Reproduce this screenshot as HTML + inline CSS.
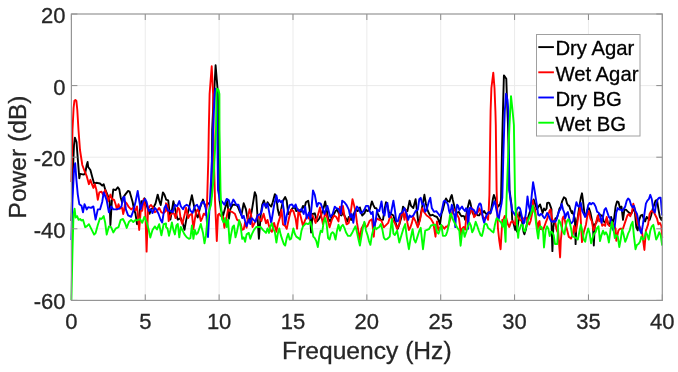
<!DOCTYPE html><html><head><meta charset="utf-8"><style>html,body{margin:0;padding:0;background:#fff;width:678px;height:372px;overflow:hidden}svg{display:block;will-change:transform}text{font-family:"Liberation Sans",sans-serif;fill:#262626;stroke:#262626;stroke-width:0.3}</style></head><body>
<svg width="678" height="372" viewBox="0 0 678 372">
<rect width="678" height="372" fill="#fff"/>
<path d="M145.26 14.0V300.4M219.12 14.0V300.4M292.99 14.0V300.4M366.85 14.0V300.4M440.71 14.0V300.4M514.58 14.0V300.4M588.44 14.0V300.4M71.4 85.60H662.3M71.4 157.20H662.3M71.4 228.80H662.3" stroke="#ebebeb" stroke-width="1" fill="none"/>
<g fill="none" stroke-width="1.9" stroke-linejoin="round" stroke-linecap="butt">
<path d="M71.4 221.0 L72.5 180.0 L74.0 145.0 L74.9 137.6 L76.5 142.0 L77.5 155.0 L79.3 178.3 L80.1 173.9 L83.8 174.6 L85.2 173.1 L86.7 165.0 L87.6 162.0 L88.2 167.0 L90.4 170.0 L92.6 178.3 L94.1 183.5 L97.1 182.8 L100.0 183.5 L102.2 185.7 L103.7 184.2 L105.2 189.4 L107.4 194.6 L109.6 200.5 L110.4 225.0 L111.9 200.5 L113.3 189.4 L115.6 190.1 L117.8 187.2 L119.3 189.4 L120.7 197.5 L122.2 202.7 L123.7 196.8 L125.2 194.6 L128.1 190.9 L129.6 191.6 L131.1 196.8 L132.6 202.0 L134.0 209.4 L135.5 213.8 L137.0 224.2 L138.5 219.7 L140.0 209.4 L141.4 201.2 L142.9 202.0 L144.4 198.3 L145.9 203.5 L148.1 209.4 L149.6 213.8 L151.0 209.4 L153.3 207.9 L155.5 203.5 L157.7 194.6 L159.2 200.5 L160.7 205.0 L162.9 192.4 L164.4 194.6 L166.0 199.0 L166.0 199.6 L168.2 200.4 L170.4 219.6 L173.4 201.1 L176.4 215.1 L177.8 219.6 L180.8 218.1 L183.0 224.0 L184.5 229.9 L186.0 221.1 L191.9 195.2 L194.1 206.3 L196.3 215.1 L197.8 217.4 L200.0 207.8 L203.0 199.6 L205.2 206.3 L206.7 204.8 L208.9 203.3 L210.4 201.8 L211.5 195.0 L212.2 130.0 L213.5 100.0 L214.4 88.0 L215.6 65.3 L217.5 88.0 L218.0 100.0 L218.5 130.0 L219.5 200.0 L221.0 210.0 L223.0 215.9 L225.2 207.8 L227.4 201.1 L228.9 218.8 L230.3 209.2 L232.6 204.8 L235.5 204.8 L237.7 206.3 L240.0 212.2 L241.4 215.1 L243.7 203.3 L245.9 209.2 L247.4 218.1 L249.6 221.1 L251.8 210.7 L254.8 192.2 L256.2 195.9 L257.7 219.6 L258.9 238.8 L260.7 215.1 L262.2 204.8 L263.9 200.4 L266.0 207.8 L267.5 202.2 L269.0 204.4 L271.2 206.6 L272.7 202.2 L274.9 194.1 L276.4 197.8 L277.8 209.6 L279.3 215.5 L280.8 211.1 L283.0 200.7 L285.2 197.0 L286.7 200.7 L288.2 214.0 L290.4 211.8 L292.6 208.1 L294.8 207.4 L296.3 211.1 L298.5 209.6 L300.8 211.8 L303.0 205.9 L304.5 208.1 L305.9 202.2 L308.2 200.7 L309.6 208.8 L311.1 232.5 L312.6 214.0 L314.8 213.3 L317.0 221.4 L319.3 218.5 L321.5 214.0 L323.7 207.4 L325.2 201.4 L326.7 209.6 L328.1 218.5 L330.3 221.4 L332.6 215.5 L334.0 214.0 L335.5 211.1 L337.0 209.6 L339.2 214.0 L341.4 215.5 L342.9 212.5 L345.1 217.0 L347.4 221.4 L348.8 217.0 L351.1 219.9 L353.3 215.5 L355.5 209.6 L357.7 211.1 L359.9 207.4 L362.2 215.5 L364.4 213.3 L366.0 209.6 L367.5 211.1 L369.7 209.6 L371.9 201.4 L373.4 205.1 L374.9 208.1 L376.4 208.1 L377.8 214.0 L379.3 217.0 L380.8 219.9 L383.0 219.9 L384.5 209.6 L386.0 202.2 L387.4 205.1 L388.9 212.5 L391.1 214.0 L393.4 215.5 L395.6 222.9 L397.8 228.8 L399.3 224.4 L401.5 217.0 L403.0 206.6 L405.2 209.6 L407.4 211.1 L409.6 200.7 L411.1 205.9 L413.3 208.1 L415.6 199.2 L417.0 211.1 L418.5 224.4 L420.0 218.5 L422.2 206.6 L424.4 194.8 L425.9 203.7 L427.4 209.6 L428.9 213.3 L430.3 215.5 L432.6 214.8 L434.8 216.2 L437.0 217.0 L438.5 219.9 L440.0 224.4 L441.4 214.0 L442.9 209.6 L445.1 200.7 L446.0 198.5 L447.8 201.2 L449.5 201.7 L450.9 196.8 L451.8 195.0 L452.7 199.4 L454.0 204.8 L454.9 209.2 L456.2 211.9 L457.5 212.7 L458.9 211.9 L460.2 214.5 L461.5 216.3 L462.9 215.9 L464.2 216.3 L465.1 219.8 L466.0 217.2 L467.3 209.2 L468.6 203.9 L469.5 200.3 L470.4 203.0 L471.3 207.4 L472.6 212.7 L474.0 215.4 L475.3 213.6 L476.6 214.1 L477.9 215.4 L479.3 215.4 L480.6 212.7 L481.9 213.6 L483.3 211.9 L484.2 211.0 L485.0 212.7 L486.4 214.1 L487.7 213.2 L489.0 212.7 L490.4 213.6 L491.7 206.5 L493.0 198.5 L493.9 195.0 L495.5 199.4 L497.0 204.0 L498.4 206.5 L500.1 203.9 L501.0 200.3 L502.0 150.0 L502.6 125.0 L503.9 75.4 L506.3 78.8 L507.0 100.0 L508.0 125.0 L509.5 190.0 L511.5 205.0 L512.2 219.6 L513.7 224.0 L515.2 229.9 L516.0 225.4 L516.9 231.6 L518.2 222.7 L519.5 212.1 L520.9 214.8 L522.2 222.7 L523.5 231.6 L524.4 234.3 L525.8 229.8 L527.1 222.7 L528.4 216.5 L529.8 212.1 L531.1 208.5 L532.4 205.0 L533.7 199.5 L536.9 209.3 L538.6 206.6 L540.0 204.4 L541.3 208.4 L542.6 213.0 L544.0 208.5 L545.3 210.3 L546.6 208.5 L547.1 203.1 L548.4 202.6 L549.3 203.1 L550.6 206.6 L551.5 209.3 L551.5 222.7 L552.4 251.1 L553.3 227.2 L554.2 222.7 L555.5 218.3 L556.8 218.3 L558.1 213.9 L559.5 208.5 L560.8 206.6 L562.1 201.3 L563.9 197.3 L565.7 198.6 L567.0 203.5 L568.4 205.7 L569.2 205.7 L570.6 210.2 L571.9 213.0 L572.3 211.2 L574.9 218.5 L575.6 244.1 L576.4 224.4 L577.8 217.0 L579.3 206.6 L580.8 197.8 L582.0 193.3 L583.0 200.7 L584.5 214.0 L586.0 216.2 L587.4 209.6 L588.9 208.1 L590.4 212.5 L591.9 219.9 L592.9 224.4 L593.8 245.5 L594.8 224.4 L596.3 222.9 L597.8 217.0 L599.3 214.0 L600.8 215.5 L602.2 215.5 L603.7 221.4 L605.2 222.9 L606.7 218.5 L608.2 224.4 L609.6 225.9 L611.1 217.0 L612.6 222.9 L614.1 218.5 L615.6 206.6 L617.0 201.4 L618.5 202.2 L620.0 208.1 L621.5 206.6 L623.0 219.9 L624.4 209.6 L625.9 209.6 L627.4 211.1 L628.9 212.5 L631.1 214.0 L633.3 209.6 L634.8 211.1 L636.3 227.3 L637.7 230.3 L639.2 219.9 L640.7 215.5 L642.2 214.8 L643.7 218.5 L645.1 221.4 L646.6 217.0 L648.1 218.5 L649.6 219.9 L651.1 215.5 L652.5 209.6 L654.0 205.1 L655.5 200.7 L657.0 200.0 L658.5 209.6 L659.9 217.0 L661.4 219.9 L662.2 217.0" stroke="#000000"/>
<path d="M71.4 182.0 L72.5 130.0 L73.6 108.0 L74.4 100.8 L75.4 100.0 L76.4 101.0 L77.3 110.0 L78.5 130.0 L80.0 150.0 L82.3 165.0 L84.5 170.9 L86.7 176.1 L88.9 184.2 L90.4 179.8 L91.9 184.2 L93.4 187.9 L94.8 184.2 L96.3 189.4 L97.8 199.8 L99.3 192.4 L101.5 191.6 L103.0 194.6 L105.2 190.1 L106.7 194.6 L108.2 201.2 L110.4 194.6 L111.9 199.0 L114.1 199.8 L115.6 204.2 L117.0 209.4 L118.5 204.2 L120.0 208.6 L122.2 207.9 L123.2 214.0 L124.2 210.0 L125.2 202.0 L126.7 203.5 L128.9 207.2 L131.1 209.4 L133.3 207.9 L135.5 210.1 L137.0 206.4 L139.2 230.0 L140.7 210.9 L142.2 210.9 L143.7 199.0 L145.2 206.4 L146.6 251.6 L148.0 210.0 L149.5 206.4 L151.0 205.0 L153.3 207.9 L154.8 212.3 L157.0 210.9 L159.2 207.9 L161.4 212.3 L163.6 213.1 L166.0 210.9 L166.0 203.3 L167.5 204.8 L168.7 221.1 L170.4 215.1 L172.7 212.9 L174.1 213.7 L175.6 218.1 L177.8 207.8 L179.3 209.2 L180.8 219.6 L182.3 224.0 L184.5 215.1 L186.0 207.8 L188.2 218.1 L189.7 215.1 L191.9 213.7 L193.4 229.2 L194.8 219.6 L196.3 211.4 L197.8 209.2 L199.3 213.7 L200.8 221.1 L202.2 218.1 L203.7 213.7 L205.4 215.0 L207.0 205.0 L208.3 160.0 L208.8 130.0 L209.6 94.0 L211.7 66.3 L213.1 94.0 L213.5 130.0 L214.0 160.0 L215.0 200.0 L216.8 241.0 L218.0 215.0 L219.3 213.7 L220.7 215.9 L223.0 216.6 L224.4 227.7 L225.9 221.1 L228.1 209.2 L230.3 211.4 L232.6 212.2 L234.8 213.7 L237.0 219.6 L239.2 221.1 L240.7 224.0 L242.2 229.9 L243.7 229.2 L245.1 222.5 L246.6 227.7 L248.1 215.9 L249.6 209.2 L251.1 215.1 L252.5 227.0 L254.8 222.5 L256.2 219.6 L257.7 215.1 L259.9 218.8 L261.4 221.1 L263.6 213.7 L266.0 223.3 L267.5 219.9 L269.0 225.9 L270.4 230.3 L271.9 231.8 L274.1 222.9 L276.4 231.8 L277.8 224.4 L280.1 217.0 L281.5 209.6 L283.0 224.4 L285.2 225.9 L286.7 228.8 L288.9 218.5 L291.1 209.6 L293.4 211.1 L295.6 218.5 L297.1 228.8 L298.5 209.6 L300.8 217.0 L303.0 225.9 L305.2 219.9 L307.4 215.5 L308.9 218.5 L311.1 214.0 L313.3 217.0 L315.6 222.9 L317.8 215.5 L320.0 207.4 L321.5 217.0 L323.0 224.4 L325.2 212.5 L326.7 215.5 L328.1 221.4 L329.6 227.3 L331.8 219.9 L334.0 215.5 L336.3 217.0 L338.5 221.4 L340.0 206.6 L341.4 214.0 L342.9 205.9 L344.4 215.5 L346.6 224.4 L348.8 222.9 L351.1 209.6 L352.5 199.2 L354.0 205.1 L355.5 211.1 L357.0 222.9 L358.5 231.8 L359.5 239.9 L361.4 228.8 L364.4 222.9 L366.0 227.3 L367.5 225.9 L369.7 220.7 L371.9 219.2 L373.8 236.7 L374.9 222.9 L377.1 218.5 L379.3 219.9 L381.5 220.7 L383.8 227.3 L386.0 225.1 L388.2 222.9 L390.4 215.5 L392.6 219.9 L394.8 222.9 L397.1 228.8 L399.3 224.4 L400.8 215.5 L403.0 211.8 L404.5 219.9 L405.9 209.6 L407.4 222.9 L408.9 230.0 L410.4 227.3 L411.9 222.9 L413.3 217.0 L415.6 221.4 L417.8 227.3 L420.0 219.9 L422.2 208.1 L424.4 212.5 L426.7 215.5 L428.9 217.0 L431.1 219.2 L433.3 222.9 L435.5 236.7 L437.0 221.4 L438.5 230.3 L440.0 227.3 L442.2 225.9 L444.4 228.8 L446.0 226.5 L447.8 226.9 L449.5 221.6 L451.3 215.4 L452.7 211.0 L454.0 209.2 L454.9 210.1 L456.2 212.7 L457.5 215.4 L458.9 218.1 L459.8 224.3 L460.6 234.9 L462.0 228.7 L463.7 226.9 L465.1 229.6 L466.4 216.3 L467.7 212.7 L469.1 215.4 L470.4 212.7 L471.3 209.2 L472.2 208.3 L473.1 211.0 L474.0 217.2 L474.8 216.3 L476.2 214.5 L477.5 212.7 L478.4 211.0 L479.3 208.3 L480.2 210.1 L481.0 212.7 L482.4 215.4 L483.3 217.2 L484.2 219.4 L485.0 218.1 L486.4 216.3 L487.3 218.1 L488.1 219.8 L488.6 212.7 L489.0 203.9 L489.4 195.0 L490.3 130.0 L490.6 111.0 L491.4 88.0 L493.3 72.7 L494.5 88.0 L495.4 111.0 L495.8 125.0 L496.6 190.0 L497.9 228.0 L499.2 240.0 L500.6 249.3 L502.3 220.0 L503.4 219.6 L504.8 215.9 L506.3 218.1 L507.8 224.0 L509.3 227.0 L510.8 222.5 L512.2 221.1 L513.7 222.5 L515.2 224.8 L516.0 210.3 L517.3 215.6 L518.7 218.3 L520.0 220.1 L521.3 220.5 L522.7 219.2 L524.0 218.3 L525.3 217.4 L526.6 218.3 L528.0 222.7 L529.3 224.5 L530.6 221.0 L532.0 213.9 L532.7 209.4 L532.9 200.4 L533.7 206.6 L535.1 209.4 L536.0 218.3 L536.9 225.4 L537.7 229.0 L538.6 222.7 L539.5 221.0 L540.4 229.0 L541.7 229.0 L543.1 229.8 L544.4 226.3 L545.7 222.7 L547.1 219.2 L548.4 214.8 L549.7 210.3 L550.6 209.4 L551.5 215.6 L552.4 220.1 L553.7 221.0 L555.0 220.1 L556.4 229.0 L557.3 231.6 L558.1 229.8 L559.5 249.4 L560.1 257.4 L560.8 240.5 L561.7 231.6 L562.6 218.3 L563.5 216.5 L564.8 220.1 L566.1 226.3 L567.5 231.6 L568.8 236.9 L570.1 237.8 L571.0 238.7 L572.8 234.3 L574.1 225.9 L575.6 231.8 L577.1 224.4 L578.6 214.0 L580.1 207.4 L582.0 242.1 L583.8 232.1 L586.0 224.4 L587.4 215.5 L588.9 211.1 L590.4 218.5 L591.9 221.4 L593.4 230.3 L594.8 227.3 L596.3 221.4 L597.8 215.5 L599.3 221.4 L600.8 218.5 L602.2 225.9 L603.7 224.4 L605.2 225.9 L606.7 217.0 L608.2 224.4 L609.6 225.9 L611.1 224.4 L612.6 222.9 L614.1 225.9 L615.6 228.8 L616.3 240.7 L617.8 233.3 L618.5 230.3 L620.0 228.8 L621.5 228.8 L623.0 228.8 L624.4 224.4 L625.9 219.9 L627.4 215.5 L628.9 214.0 L630.3 216.2 L631.8 212.5 L633.3 203.7 L634.8 209.6 L636.3 217.0 L637.7 224.4 L639.2 225.9 L640.7 228.8 L642.2 233.3 L644.4 250.0 L645.9 230.3 L646.6 228.8 L648.1 224.4 L649.6 214.0 L651.1 211.1 L652.5 211.1 L654.0 212.5 L655.5 215.5 L657.0 218.5 L658.5 224.4 L659.9 222.9 L661.4 225.9 L662.2 238.1" stroke="#ff0000"/>
<path d="M71.4 240.0 L72.5 200.0 L74.0 170.0 L75.2 163.2 L76.4 179.8 L77.8 194.6 L79.3 204.2 L81.5 205.7 L83.0 212.3 L84.5 204.2 L86.7 209.4 L88.2 207.2 L91.1 207.9 L93.4 206.4 L95.6 219.5 L97.8 209.4 L100.0 209.4 L102.2 202.0 L103.7 192.4 L105.2 196.1 L106.7 200.5 L108.9 212.3 L111.1 206.4 L113.3 209.4 L116.3 209.4 L119.3 208.6 L121.5 206.4 L123.0 197.5 L124.4 196.8 L125.9 209.4 L128.1 215.3 L131.1 216.8 L133.3 210.9 L135.5 202.0 L137.7 190.9 L139.2 200.5 L140.7 209.4 L142.9 202.0 L145.1 199.0 L146.6 202.0 L148.8 210.9 L151.0 209.4 L152.5 213.1 L154.8 207.9 L156.2 209.4 L158.5 213.8 L160.7 220.0 L162.2 222.5 L163.5 213.8 L164.4 207.9 L166.0 205.0 L166.0 206.3 L168.2 210.7 L170.4 210.7 L172.7 212.2 L174.9 204.8 L177.1 206.3 L179.3 201.1 L180.8 206.3 L183.0 209.2 L184.5 206.3 L186.7 204.8 L188.9 206.3 L190.4 210.7 L192.6 212.9 L194.8 206.3 L197.1 204.8 L199.3 209.2 L201.5 202.6 L203.7 201.8 L205.2 206.3 L206.0 210.0 L208.0 237.0 L210.5 190.0 L212.5 150.0 L213.1 130.0 L214.6 94.0 L215.6 88.6 L216.5 94.0 L217.3 130.0 L218.0 190.0 L220.0 200.0 L222.2 201.8 L224.4 204.8 L226.7 198.9 L228.9 200.4 L230.3 206.3 L231.8 203.3 L233.3 199.6 L234.8 201.8 L236.3 204.8 L238.5 204.8 L240.7 212.2 L242.2 218.1 L243.7 215.9 L245.1 221.1 L246.6 226.2 L248.8 219.6 L250.3 224.0 L251.8 218.1 L253.3 219.6 L255.5 221.8 L257.7 215.1 L259.9 214.4 L261.4 212.2 L262.9 204.8 L264.4 203.3 L266.0 207.0 L267.5 203.7 L269.0 211.1 L271.2 222.9 L272.7 214.0 L274.1 205.1 L276.4 195.5 L277.8 202.2 L279.3 200.0 L280.8 202.2 L282.3 200.7 L283.8 209.6 L285.2 224.4 L286.7 215.5 L288.2 209.6 L289.7 205.1 L291.9 204.4 L294.1 207.4 L295.6 204.4 L297.1 208.8 L299.3 211.1 L301.5 208.8 L303.7 214.0 L305.2 206.6 L306.7 218.5 L308.9 212.5 L310.4 218.5 L311.9 203.7 L313.0 190.4 L314.8 194.8 L317.0 206.6 L318.5 202.9 L320.7 203.7 L323.0 209.6 L324.4 214.0 L325.9 209.6 L327.4 205.9 L328.9 211.8 L330.3 217.0 L332.6 214.0 L334.8 206.6 L336.3 208.1 L338.5 208.8 L340.7 214.0 L342.2 200.7 L344.4 202.2 L346.6 205.1 L348.8 209.6 L350.3 217.0 L351.8 214.0 L353.3 222.9 L354.8 212.5 L357.0 206.6 L358.5 208.1 L360.7 213.3 L362.9 211.8 L364.4 209.6 L366.0 205.9 L368.2 205.9 L369.7 211.1 L371.2 214.0 L372.7 211.8 L374.1 228.8 L375.6 221.4 L377.1 209.6 L379.3 211.1 L381.5 201.4 L383.0 212.5 L384.5 215.5 L386.0 205.9 L387.4 202.9 L388.9 217.0 L391.1 212.5 L393.4 200.7 L394.8 209.6 L396.3 221.4 L397.8 221.4 L400.0 214.0 L402.2 212.5 L404.5 208.1 L406.7 214.0 L408.2 219.9 L409.6 215.5 L411.1 217.0 L413.3 215.5 L415.6 211.1 L417.8 209.6 L419.3 199.2 L420.7 197.8 L422.2 204.4 L423.7 203.7 L425.2 211.8 L426.7 209.6 L428.9 201.4 L430.3 197.8 L431.8 208.1 L434.0 211.8 L436.3 211.1 L438.5 214.0 L440.0 216.2 L441.4 212.5 L443.7 201.4 L445.1 200.7 L446.0 202.1 L447.3 203.0 L448.2 205.6 L449.1 211.0 L450.0 213.6 L450.9 210.1 L451.8 204.8 L452.7 207.4 L453.5 212.7 L454.4 215.4 L455.3 227.1 L456.2 211.0 L457.1 204.8 L458.0 205.6 L459.3 210.1 L460.6 208.3 L462.0 206.5 L463.3 209.2 L464.2 210.1 L465.1 211.0 L466.0 208.3 L467.3 209.2 L468.2 228.7 L469.1 212.7 L469.5 208.3 L470.8 207.4 L471.7 209.2 L472.6 209.2 L474.0 210.1 L475.3 212.7 L476.6 213.6 L477.9 207.4 L479.3 203.9 L480.2 203.4 L481.0 204.8 L481.9 210.1 L482.8 218.1 L484.2 222.8 L485.5 218.1 L486.4 215.4 L487.3 214.5 L488.1 212.7 L489.0 211.9 L490.4 212.7 L491.3 211.0 L492.1 208.3 L493.5 203.9 L494.4 201.2 L495.2 203.0 L496.1 208.3 L497.0 212.7 L497.9 218.1 L498.8 219.0 L499.7 212.7 L500.6 208.3 L501.5 203.9 L502.3 197.7 L503.5 150.0 L504.3 125.0 L504.8 111.0 L506.0 93.8 L507.5 100.0 L508.4 111.0 L508.8 125.0 L509.3 190.0 L510.5 200.0 L512.2 210.7 L515.2 215.1 L516.0 212.1 L517.3 208.5 L518.7 207.2 L520.0 208.5 L520.9 212.1 L522.2 218.3 L523.5 223.6 L524.4 222.7 L525.8 213.9 L527.5 196.4 L528.9 206.6 L530.2 211.1 L531.5 197.7 L533.1 182.2 L534.6 190.6 L536.4 202.2 L537.3 207.7 L538.2 214.8 L539.5 215.6 L540.8 213.9 L542.2 214.8 L543.1 216.5 L544.4 218.3 L545.7 216.5 L547.1 213.0 L548.4 214.8 L549.7 218.3 L551.0 221.0 L552.4 221.9 L553.7 221.0 L555.0 221.9 L556.4 220.1 L557.7 215.6 L559.0 211.2 L560.4 209.4 L561.7 204.0 L563.0 209.3 L564.4 213.0 L565.2 218.3 L566.6 213.9 L567.9 212.1 L569.2 218.3 L570.6 223.6 L571.9 222.7 L573.2 221.0 L574.9 209.6 L576.4 202.2 L577.8 205.9 L579.3 206.6 L580.8 202.9 L582.3 211.1 L583.8 214.0 L585.2 217.0 L586.7 212.5 L588.2 205.1 L589.7 202.9 L591.1 204.4 L592.6 202.9 L594.1 203.7 L595.6 206.6 L597.1 211.8 L598.5 212.5 L600.0 215.5 L601.5 222.9 L603.0 217.0 L604.5 209.6 L605.9 208.1 L607.4 212.5 L608.9 217.0 L610.4 218.5 L611.9 227.3 L613.3 230.3 L614.8 225.9 L616.3 212.5 L617.8 208.1 L619.3 209.6 L620.7 209.6 L622.2 211.1 L623.7 208.8 L625.2 206.6 L626.7 200.7 L628.1 198.5 L629.6 200.0 L631.1 205.1 L632.6 207.4 L634.0 205.9 L635.5 211.1 L637.0 214.0 L638.5 221.4 L640.0 230.3 L641.4 233.3 L642.9 224.4 L644.4 214.0 L645.9 203.7 L647.4 200.7 L648.8 199.2 L650.3 194.8 L651.8 199.2 L653.3 209.6 L654.8 212.5 L656.2 203.7 L657.7 199.2 L659.2 197.8 L660.7 197.8 L662.2 215.5" stroke="#0000ff"/>
<path d="M71.4 300.0 L72.5 250.0 L73.5 215.0 L74.6 208.7 L75.6 217.6 L77.1 216.1 L78.6 219.8 L80.1 219.0 L81.5 220.5 L83.0 219.8 L85.2 227.2 L86.7 226.4 L88.9 224.2 L90.4 227.2 L94.1 234.6 L95.6 233.1 L97.8 225.0 L100.0 218.3 L101.5 219.0 L103.7 216.1 L105.2 222.8 L106.7 234.6 L108.9 226.4 L111.1 227.2 L113.3 232.4 L115.6 228.7 L118.5 227.2 L120.7 219.8 L123.0 219.0 L125.2 223.5 L126.7 227.9 L128.9 222.0 L131.1 219.8 L133.3 222.0 L135.5 219.8 L137.0 220.5 L140.0 219.0 L142.2 222.8 L144.4 216.8 L146.6 222.0 L148.8 230.1 L150.3 237.5 L152.5 230.1 L154.8 226.4 L157.0 229.4 L159.2 224.2 L161.4 235.3 L163.6 224.2 L166.0 223.5 L166.0 227.0 L167.5 228.5 L169.0 235.9 L170.4 229.9 L171.9 222.5 L173.4 229.9 L174.9 234.4 L176.4 225.5 L177.8 224.0 L179.3 237.3 L180.8 227.0 L182.3 229.9 L184.5 234.4 L186.7 237.3 L188.9 238.8 L190.4 238.1 L191.9 225.5 L193.4 238.8 L194.8 229.9 L196.3 234.4 L197.8 232.9 L199.3 228.5 L200.8 224.0 L203.0 232.9 L204.5 243.3 L205.9 235.9 L207.4 219.6 L208.9 211.4 L211.0 205.0 L213.5 180.0 L215.0 150.0 L216.0 130.0 L216.5 94.0 L217.0 88.6 L218.5 90.0 L219.4 94.0 L219.5 130.0 L220.5 190.0 L221.5 215.0 L222.2 219.6 L223.7 222.5 L225.2 218.1 L226.7 227.0 L228.1 219.6 L229.6 243.3 L231.1 234.4 L232.6 227.0 L234.0 225.5 L235.5 237.3 L237.0 231.4 L238.5 224.0 L239.2 220.3 L240.7 227.0 L242.2 238.8 L243.7 237.3 L245.1 241.8 L246.6 234.4 L248.8 232.9 L250.3 238.8 L251.8 234.4 L254.0 229.9 L256.2 227.0 L258.5 227.0 L260.7 227.0 L262.9 229.9 L266.0 232.9 L267.5 228.5 L269.0 232.9 L270.4 226.3 L271.9 223.3 L273.4 229.2 L274.9 232.2 L276.4 242.5 L277.8 233.7 L279.3 228.5 L280.8 235.1 L282.3 239.6 L283.8 244.0 L285.2 245.5 L286.7 238.1 L288.2 233.7 L289.7 239.6 L291.1 238.8 L293.4 228.5 L294.8 233.7 L296.3 236.6 L298.5 238.1 L300.0 239.6 L301.5 230.7 L303.0 226.3 L304.5 224.8 L305.9 223.3 L308.2 224.1 L310.4 221.8 L311.9 227.8 L313.3 236.6 L314.8 238.1 L316.3 241.1 L317.8 247.0 L319.3 236.6 L320.7 230.7 L322.2 232.2 L323.7 221.8 L325.2 218.1 L326.7 224.8 L328.1 238.1 L329.6 239.6 L331.1 233.7 L332.6 232.2 L334.0 233.7 L335.5 239.6 L337.0 230.7 L338.5 224.8 L340.0 230.7 L341.4 226.3 L342.9 224.8 L344.4 227.8 L345.9 232.2 L348.1 235.9 L350.3 235.9 L352.5 232.2 L354.0 229.2 L355.5 226.3 L357.0 232.2 L358.5 239.6 L359.9 245.5 L361.4 236.6 L362.9 227.8 L364.4 221.8 L366.0 230.7 L367.5 235.1 L369.0 241.1 L370.4 244.8 L371.9 235.1 L373.4 229.2 L374.9 227.0 L376.4 229.2 L377.8 227.8 L379.3 227.0 L380.8 224.1 L382.3 229.2 L383.8 237.4 L385.2 239.6 L387.4 238.8 L389.7 236.6 L391.9 218.9 L393.4 233.7 L394.8 235.1 L397.1 230.7 L399.3 242.5 L401.5 235.1 L403.7 227.8 L405.2 224.1 L406.7 236.6 L408.9 249.2 L410.4 239.6 L412.6 229.2 L414.1 239.6 L415.6 242.5 L417.0 238.1 L419.3 230.7 L420.7 227.8 L423.0 249.2 L425.2 230.7 L426.7 230.0 L428.9 229.2 L431.1 225.5 L433.3 224.8 L435.5 224.8 L437.0 232.2 L438.5 233.7 L440.0 229.2 L441.4 224.8 L442.9 235.9 L445.1 235.9 L446.0 235.1 L447.3 231.5 L448.7 225.3 L450.0 215.4 L450.9 213.6 L451.8 216.3 L452.7 219.0 L454.9 223.5 L457.5 228.0 L459.3 230.6 L460.6 245.7 L462.0 233.3 L463.3 228.9 L464.6 236.9 L466.4 231.5 L468.2 225.3 L469.5 222.7 L470.8 225.3 L472.2 232.4 L473.5 229.8 L474.8 225.3 L475.7 221.8 L477.0 225.3 L478.8 230.6 L480.6 235.1 L481.9 236.0 L483.3 230.6 L484.2 225.3 L485.5 223.5 L486.8 224.4 L488.1 228.0 L490.4 229.8 L492.1 231.5 L493.5 232.4 L494.8 225.3 L496.1 220.0 L496.7 218.1 L498.2 219.6 L499.7 221.1 L501.1 222.5 L502.6 227.0 L504.1 219.6 L505.6 241.8 L506.5 200.0 L508.0 160.0 L509.5 125.0 L511.0 96.1 L512.5 110.0 L513.9 125.0 L515.0 195.0 L515.6 210.0 L516.0 213.9 L516.9 222.7 L517.8 234.3 L518.2 237.8 L518.7 231.6 L520.0 228.1 L521.3 224.5 L522.7 225.4 L524.0 230.7 L524.9 231.6 L526.2 227.2 L527.5 221.9 L528.9 218.3 L530.2 215.6 L531.5 212.1 L532.4 207.7 L532.9 205.7 L533.7 210.3 L535.1 213.9 L536.0 222.7 L536.9 229.8 L538.2 238.6 L539.1 229.8 L540.4 226.3 L541.7 227.2 L543.1 231.6 L544.0 247.5 L545.7 229.8 L547.1 226.3 L548.4 229.0 L549.7 236.1 L551.0 231.6 L552.4 232.5 L553.7 235.2 L555.0 244.0 L557.3 244.0 L558.1 225.4 L559.0 220.1 L560.4 222.7 L561.7 228.1 L563.0 231.6 L564.4 234.3 L565.7 226.3 L567.0 221.0 L568.4 219.2 L569.7 222.7 L571.0 228.1 L572.3 236.1 L574.9 237.4 L576.4 238.1 L577.8 239.6 L579.3 232.2 L580.8 224.8 L582.3 230.7 L583.8 239.6 L585.2 241.8 L586.7 233.7 L588.2 228.5 L589.7 233.7 L591.1 243.3 L592.6 238.1 L594.1 233.7 L595.6 232.2 L597.1 227.8 L598.5 226.3 L600.0 241.1 L601.5 235.1 L603.0 230.7 L604.5 234.4 L605.9 232.2 L607.4 235.1 L608.9 242.5 L610.4 230.7 L611.9 221.8 L613.3 227.8 L614.8 238.1 L616.3 235.1 L617.8 236.6 L619.3 247.0 L620.7 239.6 L622.2 229.2 L623.7 235.1 L625.2 241.8 L626.7 238.1 L628.1 233.7 L629.6 230.7 L631.1 224.8 L632.6 221.8 L634.0 236.6 L635.5 249.2 L637.0 244.8 L638.5 244.0 L640.0 241.8 L641.4 236.6 L642.9 239.6 L644.4 238.1 L645.9 232.2 L647.4 235.1 L648.8 239.6 L650.3 230.7 L651.8 226.3 L653.3 224.8 L654.8 232.2 L656.2 239.6 L657.7 236.6 L659.2 232.2 L660.7 235.1 L662.2 245.5" stroke="#00ff00"/>
</g>
<path d="M71.40 300.4v-6M71.40 14.0v6M145.26 300.4v-6M145.26 14.0v6M219.12 300.4v-6M219.12 14.0v6M292.99 300.4v-6M292.99 14.0v6M366.85 300.4v-6M366.85 14.0v6M440.71 300.4v-6M440.71 14.0v6M514.58 300.4v-6M514.58 14.0v6M588.44 300.4v-6M588.44 14.0v6M662.30 300.4v-6M662.30 14.0v6M71.4 14.00h6M662.3 14.00h-6M71.4 85.60h6M662.3 85.60h-6M71.4 157.20h6M662.3 157.20h-6M71.4 228.80h6M662.3 228.80h-6M71.4 300.40h6M662.3 300.40h-6" stroke="#8a8a8a" stroke-width="1" fill="none"/>
<rect x="71.4" y="14.0" width="590.90" height="286.40" fill="none" stroke="#959595" stroke-width="1.2"/>
<text x="71.40" y="329.3" font-size="22" text-anchor="middle">0</text>
<text x="145.26" y="329.3" font-size="22" text-anchor="middle">5</text>
<text x="219.12" y="329.3" font-size="22" text-anchor="middle">10</text>
<text x="292.99" y="329.3" font-size="22" text-anchor="middle">15</text>
<text x="366.85" y="329.3" font-size="22" text-anchor="middle">20</text>
<text x="440.71" y="329.3" font-size="22" text-anchor="middle">25</text>
<text x="514.58" y="329.3" font-size="22" text-anchor="middle">30</text>
<text x="588.44" y="329.3" font-size="22" text-anchor="middle">35</text>
<text x="662.30" y="329.3" font-size="22" text-anchor="middle">40</text>
<text x="65.5" y="23.00" font-size="22" text-anchor="end">20</text>
<text x="65.5" y="94.60" font-size="22" text-anchor="end">0</text>
<text x="65.5" y="166.20" font-size="22" text-anchor="end">-20</text>
<text x="65.5" y="237.80" font-size="22" text-anchor="end">-40</text>
<text x="65.5" y="309.40" font-size="22" text-anchor="end">-60</text>
<text x="366.85" y="359.3" font-size="24.6" text-anchor="middle">Frequency (Hz)</text>
<text transform="translate(25.8 157) rotate(-90)" x="0" y="0" font-size="24.6" text-anchor="middle">Power (dB)</text>
<rect x="536.5" y="34.5" width="103.5" height="101.5" fill="#fff" stroke="#a0a0a0" stroke-width="1"/>
<path d="M538.3 47.1H553.9" stroke="#000000" stroke-width="1.9"/>
<text x="555.4" y="55.3" font-size="20.3" style="fill:#000;stroke:#000">Dry Agar</text>
<path d="M538.3 72.3H553.9" stroke="#ff0000" stroke-width="1.9"/>
<text x="555.4" y="80.5" font-size="20.3" style="fill:#000;stroke:#000">Wet Agar</text>
<path d="M538.3 97.5H553.9" stroke="#0000ff" stroke-width="1.9"/>
<text x="555.4" y="105.7" font-size="20.3" style="fill:#000;stroke:#000">Dry BG</text>
<path d="M538.3 122.7H553.9" stroke="#00ff00" stroke-width="1.9"/>
<text x="555.4" y="130.9" font-size="20.3" style="fill:#000;stroke:#000">Wet BG</text>
</svg></body></html>
